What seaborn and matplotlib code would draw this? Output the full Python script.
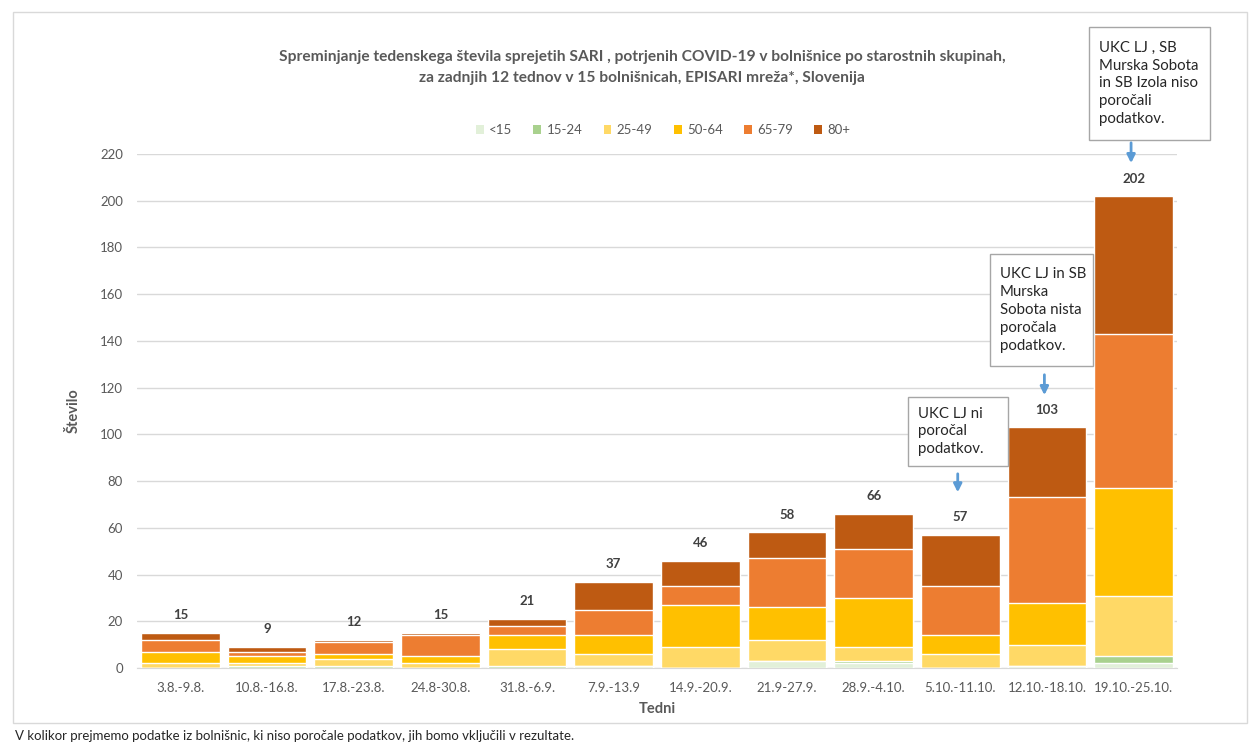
import numpy as np
import pandas as pd
import matplotlib
matplotlib.use("Agg")
import matplotlib.pyplot as plt
import seaborn as sns
from matplotlib.patches import Rectangle, Patch

# DATA

weeks = ["3.8.-9.8.", "10.8.-16.8.", "17.8.-23.8.", "24.8-30.8.", "31.8.-6.9.",
         "7.9.-13.9", "14.9.-20.9.", "21.9-27.9.", "28.9.-4.10.", "5.10.-11.10.",
         "12.10.-18.10.", "19.10.-25.10."]
age_groups = ["<15", "15-24", "25-49", "50-64", "65-79", "80+"]
under15 = [0, 0, 0, 0, 0, 1, 0, 3, 2, 0, 1, 2]
age15_24 = [0, 1, 1, 0, 1, 0, 0, 0, 1, 0, 0, 3]
age25_49 = [2, 1, 3, 2, 7, 5, 9, 9, 6, 6, 9, 26]
age50_64 = [5, 3, 2, 3, 6, 8, 18, 14, 21, 8, 18, 46]
age65_79 = [5, 2, 5, 9, 4, 11, 8, 21, 21, 21, 45, 66]
age80 = [3, 2, 1, 1, 3, 12, 11, 11, 15, 22, 30, 59]
colors = ["#E2F0D9", "#A9D18E", "#FFD966", "#FFC000", "#ED7D31", "#BE5A12"]

notes = {9: "UKC LJ ni\nporočal\npodatkov.",
         10: "UKC LJ in SB\nMurska\nSobota nista\nporočala\npodatkov.",
         11: "UKC LJ , SB\nMurska Sobota\nin SB Izola niso\nporočali\npodatkov."}

df = pd.DataFrame({"Teden": weeks, "<15": under15, "15-24": age15_24,
                   "25-49": age25_49, "50-64": age50_64,
                   "65-79": age65_79, "80+": age80})
cum = df[age_groups].cumsum(axis=1)
totals = cum["80+"]

# PLOT

sns.set_style("white")
plt.rcParams["font.family"] = ["Lato", "DejaVu Sans"]
grey = "#595959"

fig = plt.figure(figsize=(12.59, 7.51), dpi=100)
ax = fig.add_axes([137 / 1259, 1 - 668 / 751, 1040 / 1259, 514 / 751])

for grp, col in reversed(list(zip(age_groups, colors))):
    sns.barplot(x=df["Teden"], y=cum[grp], color=col, saturation=1, width=0.91,
                edgecolor="white", linewidth=1.0, ax=ax, zorder=3)

ax.set_ylim(0, 220)
ax.set_xlim(-0.5, 11.5)
ax.set_yticks(range(0, 221, 20))
ax.yaxis.grid(True, color="#D9D9D9", linewidth=1, zorder=0)
ax.set_axisbelow(True)
for s in ["top", "right", "left"]:
    ax.spines[s].set_visible(False)
ax.spines["bottom"].set_color("#D9D9D9")
ax.tick_params(axis="both", length=0, labelsize=9.5, colors=grey, pad=10)
ax.set_xlabel("Tedni", fontsize=10.5, fontweight="bold", color=grey, labelpad=6)
ax.set_ylabel("Število", fontsize=10.5, fontweight="bold", color=grey, labelpad=14)

for i, t in enumerate(totals):
    ax.text(i, t + 7.5, str(t), ha="center", va="center", fontsize=9.5,
            fontweight="bold", color="#404040")

# annotation boxes with arrows: (left offset, width, gap above total, height)
box_geom = {9: (-0.6, 1.15, 29.5, 29.5),
            10: (-0.66, 1.19, 26.3, 48),
            11: (-0.52, 1.40, 24, 48.4)}
arrow_geom = {9: (27.3, 17), 10: (23.7, 12.6), 11: (24, 12.9)}
for i, txt in notes.items():
    t = totals[i]
    dx, w, gap, h = box_geom[i]
    bottom = t + gap
    ax.add_patch(Rectangle((i + dx, bottom), w, h, facecolor="white",
                           edgecolor="#A6A6A6", linewidth=1, clip_on=False, zorder=5))
    ax.text(i + dx + 0.115, bottom + h / 2, txt, ha="left", va="center",
            fontsize=10.8, color="#262626", linespacing=1.35, zorder=6,
            clip_on=False)
    a0, a1 = arrow_geom[i]
    ax.annotate("", xy=(i - 0.03, t + a1), xytext=(i - 0.03, t + a0),
                arrowprops=dict(arrowstyle="-|>", color="#5B9BD5", lw=2,
                                mutation_scale=12), annotation_clip=False)

handles = [Patch(facecolor=c, edgecolor="none") for c in colors]
fig.legend(handles, age_groups, loc="center", bbox_to_anchor=(663 / 1259, 1 - 130 / 751),
           ncol=6, frameon=False, fontsize=9.5, handlelength=0.6, handleheight=0.6,
           handletextpad=0.4, columnspacing=1.6, labelcolor=grey)

fig.text(642 / 1259, 1 - 57 / 751,
         "Spreminjanje tedenskega števila sprejetih SARI , potrjenih COVID-19 v bolnišnice po starostnih skupinah,",
         ha="center", va="center", fontsize=11.2, fontweight="bold", color=grey)
fig.text(642 / 1259, 1 - 78 / 751,
         "za zadnjih 12 tednov v 15 bolnišnicah, EPISARI mreža*, Slovenija",
         ha="center", va="center", fontsize=11.2, fontweight="bold", color=grey)

# chart border and footnote
fig.patches.append(Rectangle((13 / 1259, 1 - 723 / 751), 1234 / 1259, 711 / 751,
                             transform=fig.transFigure, fill=False,
                             edgecolor="#D9D9D9", linewidth=1))
fig.text(15 / 1259, 1 - 736 / 751,
         "V kolikor prejmemo podatke iz bolnišnic, ki niso poročale podatkov, jih bomo vključili v rezultate.",
         ha="left", va="center", fontsize=9.5, color="#262626")

fig.savefig("out.png", dpi=100)
